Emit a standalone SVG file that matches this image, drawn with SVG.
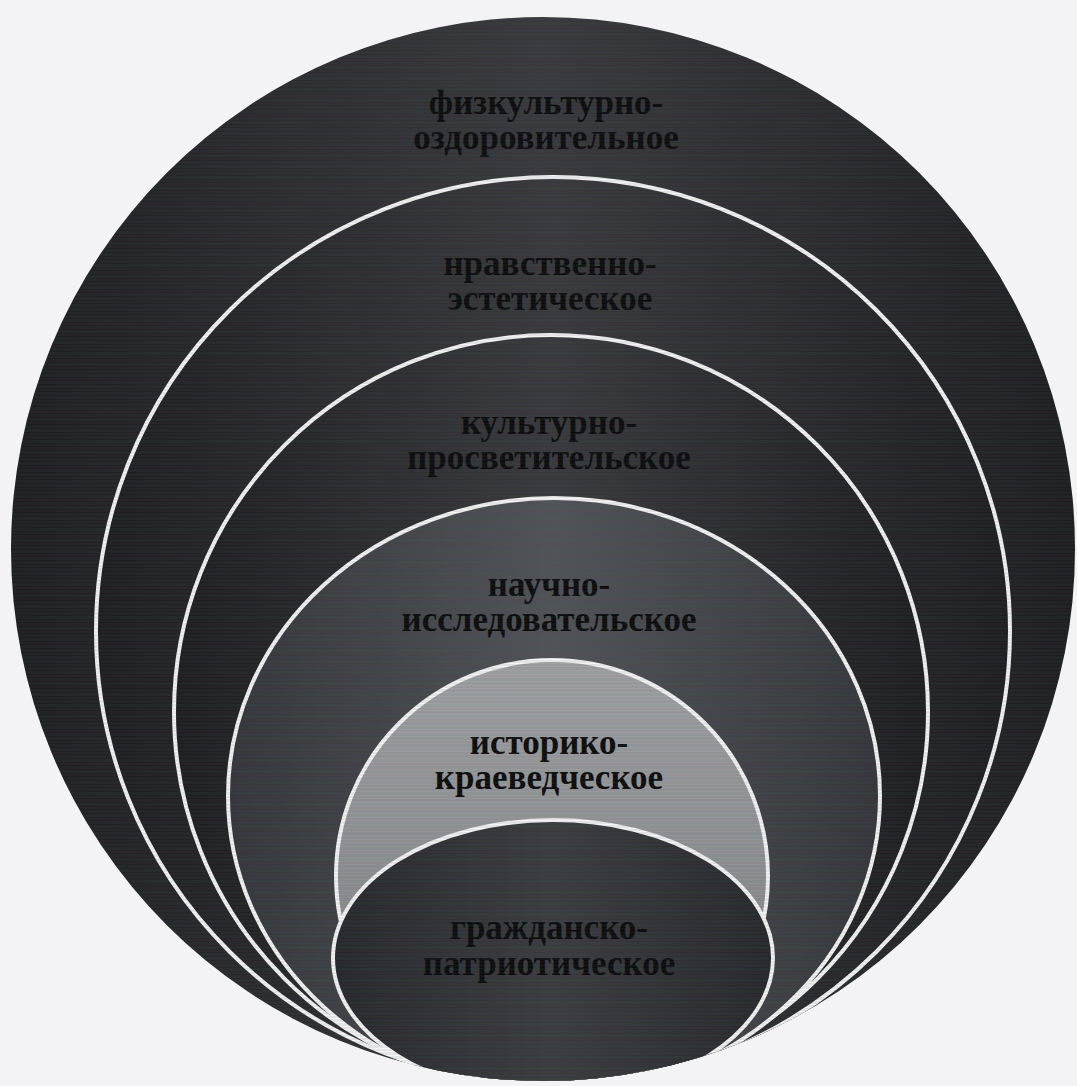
<svg xmlns="http://www.w3.org/2000/svg" width="1077" height="1086" viewBox="0 0 1077 1086">
<style>
  .lbl { font-family: "Liberation Serif", "Times New Roman", serif; font-weight: bold; font-size: 35px; fill: #0b0b0c; text-anchor: middle; }
  .ring { stroke: #f4f4f4; stroke-width: 4; }
</style>
<defs>
  <clipPath id="outerClip">
    <circle cx="543" cy="549" r="532"/>
  </clipPath>
  <linearGradient id="gDark" x1="0" y1="0" x2="1" y2="0">
    <stop offset="0" stop-color="#1c1d1f"/>
    <stop offset="0.5" stop-color="#38393c"/>
    <stop offset="1" stop-color="#1c1d1f"/>
  </linearGradient>
  <linearGradient id="gMid" x1="0" y1="0" x2="1" y2="0">
    <stop offset="0" stop-color="#34363a"/>
    <stop offset="0.5" stop-color="#505357"/>
    <stop offset="1" stop-color="#34363a"/>
  </linearGradient>
  <linearGradient id="gLight" x1="0" y1="0" x2="0" y2="1">
    <stop offset="0" stop-color="#a0a2a4"/>
    <stop offset="1" stop-color="#7c7e81"/>
  </linearGradient>
  <linearGradient id="gInner" x1="0" y1="0" x2="1" y2="0">
    <stop offset="0" stop-color="#25272a"/>
    <stop offset="0.5" stop-color="#3a3c3f"/>
    <stop offset="1" stop-color="#25272a"/>
  </linearGradient>
  <pattern id="stripes" x="0" y="0" width="1077" height="11" patternUnits="userSpaceOnUse">
    <rect x="0" y="0" width="1077" height="3" fill="#4f6a55" opacity="0.10"/>
    <rect x="0" y="4" width="1077" height="2" fill="#6a4f55" opacity="0.10"/>
    <rect x="0" y="7" width="1077" height="3" fill="#4f5a70" opacity="0.10"/>
  </pattern>
</defs>
<rect x="0" y="0" width="1077" height="1086" fill="#f3f3f5"/>

<g id="node-fizkult">
  <circle cx="543" cy="549" r="532" fill="url(#gDark)"/>
  <text class="lbl" x="546" y="114">физкультурно-</text>
  <text class="lbl" x="546" y="149">оздоровительное</text>
</g>

<g clip-path="url(#outerClip)">
  <g id="node-nravstv">
    <ellipse class="ring" cx="553" cy="631" rx="457" ry="454" fill="url(#gDark)"/>
    <text class="lbl" x="550" y="275">нравственно-</text>
    <text class="lbl" x="550" y="310">эстетическое</text>
  </g>
  <g id="node-kult">
    <circle class="ring" cx="551" cy="712" r="377" fill="url(#gDark)"/>
    <text class="lbl" x="549" y="434">культурно-</text>
    <text class="lbl" x="549" y="469">просветительское</text>
  </g>
  <g id="node-nauch">
    <ellipse class="ring" cx="554" cy="796" rx="326" ry="298" fill="url(#gMid)"/>
    <text class="lbl" x="549" y="596">научно-</text>
    <text class="lbl" x="549" y="631">исследовательское</text>
  </g>
  <g id="node-istor">
    <circle class="ring" cx="552" cy="876" r="216" fill="url(#gLight)"/>
    <text class="lbl" x="549" y="754">историко-</text>
    <text class="lbl" x="549" y="789">краеведческое</text>
  </g>
  <g id="node-grazhd">
    <ellipse class="ring" cx="553" cy="958" rx="220" ry="138" fill="url(#gInner)"/>
    <text class="lbl" x="549" y="939">гражданско-</text>
    <text class="lbl" x="549" y="975">патриотическое</text>
  </g>
  <rect x="0" y="0" width="1077" height="1086" fill="url(#stripes)" pointer-events="none"/>
</g>
<g id="connectors"/>
</svg>
